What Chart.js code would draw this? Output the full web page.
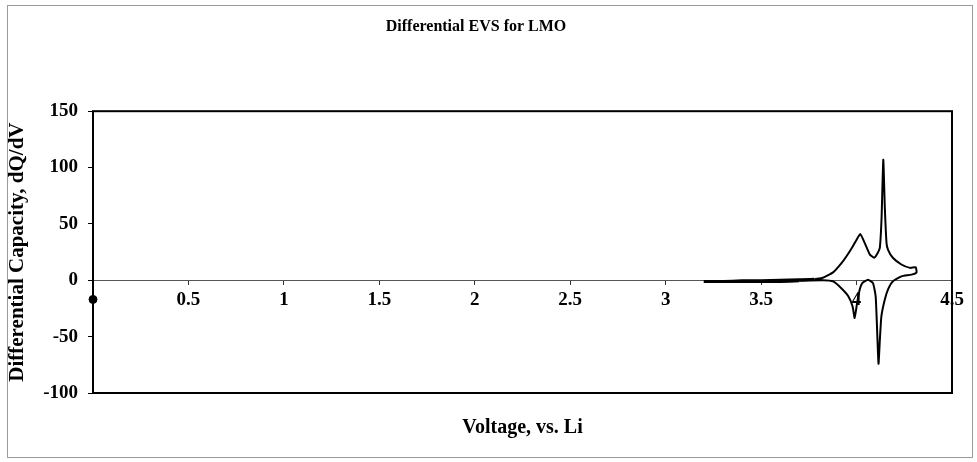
<!DOCTYPE html>
<html>
<head>
<meta charset="utf-8">
<script src="https://cdn.jsdelivr.net/npm/chart.js@4/dist/chart.umd.min.js"></script>
<style>
  html, body { margin: 0; padding: 0; background: #fff; }
</style>
</head>
<body>
<canvas id="evsChart" width="977" height="462"></canvas>
<script>
// Differential EVS for LMO — one charge/discharge loop
const voltage = [
  3.20, 3.30, 3.40, 3.50, 3.60, 3.70, 3.78, 3.82,
  3.877, 3.92, 3.95, 3.98, 4.00, 4.02, 4.043, 4.069, 4.092,
  4.110, 4.122, 4.131, 4.140, 4.148, 4.157, 4.165, 4.19, 4.235, 4.28, 4.31, 4.314,
  4.288, 4.235, 4.19, 4.165, 4.148, 4.13, 4.122, 4.115, 4.107, 4.10, 4.086,
  4.06, 4.03, 4.017, 4.003, 3.99, 3.979, 3.956, 3.92, 3.877, 3.824,
  3.70, 3.60, 3.50, 3.40, 3.30, 3.20
];
const dqdv = [
  -1, -1, -0.5, -0.5, 0, 0.5, 1, 2,
  7, 15, 22, 30, 36, 41, 33, 23, 20,
  24, 29, 55, 107, 65, 33, 27, 20, 14, 11, 11.5, 7,
  5, 3.5, -1, -8, -17, -32, -53, -74, -41, -14, -2.5,
  0.5, -2.5, -8, -20, -33.5, -23, -14, -7, -1, 0,
  -0.5, -1, -1, -1, -1, -1
];
// stray point at the origin of the scan
const strayVoltage = [0];
const strayDqdv = [-17];

const yTicks = { min: -100, max: 150, step: 50 };
const xTicks = { min: 0, max: 4.5, step: 0.5 };

const serif = "'Liberation Serif', 'Times New Roman', serif";

// box around the plot area and thin frame round the whole picture
const framePlugin = {
  id: 'frame',
  beforeDraw(chart) {
    const c = chart.ctx;
    c.save();
    c.strokeStyle = '#9a9a9a';
    c.lineWidth = 1;
    c.strokeRect(7.5, 5.5, 965, 452);
    c.restore();
  },
  afterDatasetsDraw(chart) {
    const { ctx: c, chartArea: a } = chart;
    c.save();
    c.strokeStyle = '#000';
    c.lineWidth = 2;
    c.strokeRect(a.left, a.top, a.right - a.left, a.bottom - a.top);
    c.restore();
  }
};

const ctx = document.getElementById('evsChart').getContext('2d');

new Chart(ctx, {
  type: 'scatter',
  data: {
    datasets: [
      {
        label: 'dQ/dV',
        data: voltage.map((v, i) => ({ x: v, y: dqdv[i] })),
        showLine: true,
        borderColor: '#000',
        borderWidth: 2,
        pointRadius: 0,
        tension: 0.15,
        // the flat run is two traces on top of each other, so it reads heavier
        segment: {
          borderWidth: s => (s.p0.parsed.x < 3.8 && s.p1.parsed.x < 3.8 ? 3 : 2)
        }
      },
      {
        label: 'stray',
        data: strayVoltage.map((v, i) => ({ x: v, y: strayDqdv[i] })),
        showLine: false,
        pointRadius: 4,
        pointBackgroundColor: '#000',
        pointBorderColor: '#000',
        clip: false
      }
    ]
  },
  options: {
    responsive: false,
    animation: false,
    layout: { padding: { left: 0, right: 25, top: 0, bottom: 0 } },
    plugins: {
      legend: { display: false },
      tooltip: { enabled: false },
      title: {
        display: true,
        text: 'Differential EVS for LMO',
        color: '#000',
        font: { family: serif, size: 16, weight: 'bold' },
        padding: { top: 17, bottom: 75 }
      }
    },
    scales: {
      x: {
        type: 'linear',
        position: { y: 0 },
        min: xTicks.min,
        max: xTicks.max,
        border: { display: true, color: '#555', width: 1 },
        grid: { drawOnChartArea: false, tickLength: 4, color: '#333' },
        ticks: {
          stepSize: xTicks.step,
          autoSkip: false,
          maxRotation: 0,
          padding: 4,
          color: '#000',
          font: { family: serif, size: 19, weight: 'bold' },
          callback: v => (v === 0 ? '' : v)
        }
      },
      x2: {
        type: 'linear',
        position: 'bottom',
        min: xTicks.min,
        max: xTicks.max,
        border: { display: false },
        grid: { display: false, drawTicks: false },
        ticks: { display: false },
        title: {
          display: true,
          text: 'Voltage, vs. Li',
          color: '#000',
          font: { family: serif, size: 20, weight: 'bold' },
          padding: { top: 23, bottom: 22 }
        }
      },
      y: {
        type: 'linear',
        position: 'left',
        min: yTicks.min,
        max: yTicks.max,
        afterFit: scale => { scale.width = 93; },
        border: { display: false },
        grid: { drawOnChartArea: false, tickLength: 5, color: '#000' },
        ticks: {
          stepSize: yTicks.step,
          padding: 10,
          color: '#000',
          font: { family: serif, size: 19, weight: 'bold' }
        },
        title: {
          display: true,
          text: 'Differential Capacity, dQ/dV',
          color: '#000',
          font: { family: serif, size: 21, weight: 'bold' },
          padding: { top: 5, bottom: 0 }
        }
      }
    }
  },
  plugins: [framePlugin]
});
</script>
</body>
</html>
